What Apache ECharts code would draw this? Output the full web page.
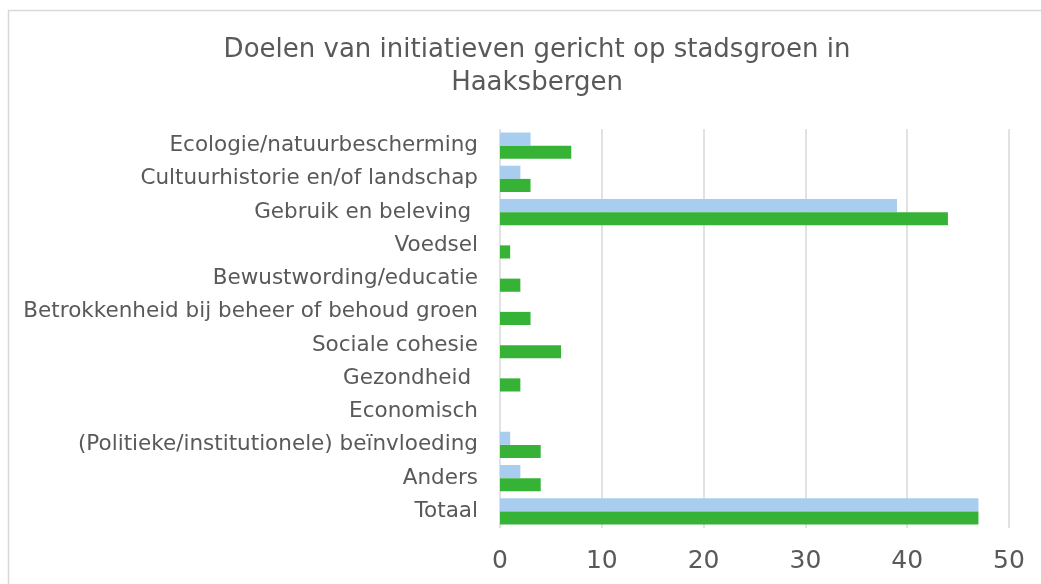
<!DOCTYPE html>
<html>
<head>
<meta charset="utf-8">
<script src="https://cdn.jsdelivr.net/npm/echarts@6/dist/echarts.min.js"></script>
<style>
html,body{margin:0;padding:0;background:#fff;}
#c{width:1041px;height:584px;}
</style>
</head>
<body>
<div id="c"></div>
<script>
const categories = [
  "Ecologie/natuurbescherming",
  "Cultuurhistorie en/of landschap",
  "Gebruik en beleving ",
  "Voedsel",
  "Bewustwording/educatie",
  "Betrokkenheid bij beheer of behoud groen",
  "Sociale cohesie",
  "Gezondheid ",
  "Economisch",
  "(Politieke/institutionele) beïnvloeding",
  "Anders",
  "Totaal"
];
const seriesBlue = [3, 2, 39, 0, 0, 0, 0, 0, 0, 1, 2, 47];
const seriesGreen = [7, 3, 44, 1, 2, 3, 6, 2, 0, 4, 4, 47];
const xTicks = [0, 10, 20, 30, 40, 50];

const chart = echarts.init(document.getElementById('c'), null, {renderer: 'canvas'});
const font = "'DejaVu Sans', Verdana, sans-serif";
chart.setOption({
  animation: false,
  textStyle: {fontFamily: font},
  title: {
    text: "Doelen van initiatieven gericht op stadsgroen in\nHaaksbergen",
    left: 532, top: 29, textAlign: 'center',
    textStyle: {fontFamily: font, fontSize: 26, fontWeight: 'normal', color: '#595959', lineHeight: 33}
  },
  graphic: [{
    type: 'rect', shape: {x: 8.5, y: 10.5, width: 1100, height: 700},
    style: {fill: 'none', stroke: '#d9d9d9', lineWidth: 1.5}, silent: true, z: -1
  }],
  grid: {left: 500, right: 32, top: 129, bottom: 56, containLabel: false},
  xAxis: {
    type: 'value', min: xTicks[0], max: xTicks[xTicks.length - 1], interval: 10,
    axisLine: {show: false}, axisTick: {show: false},
    splitLine: {show: true, lineStyle: {color: '#d9d9d9', width: 1.5}},
    axisLabel: {fontFamily: font, fontSize: 25, color: '#595959', margin: 21}
  },
  yAxis: {
    type: 'category', data: categories, inverse: true,
    axisLine: {show: false}, axisTick: {show: false},
    axisLabel: {fontFamily: font, fontSize: 21.5, color: '#595959', margin: 22}
  },
  series: [
    {name: 'A', type: 'bar', data: seriesBlue, itemStyle: {color: '#A9CDEE'}, barGap: '0%', barCategoryGap: '21%'},
    {name: 'B', type: 'bar', data: seriesGreen, itemStyle: {color: '#36B236'}, barGap: '0%', barCategoryGap: '21%'}
  ]
});
</script>
</body>
</html>
